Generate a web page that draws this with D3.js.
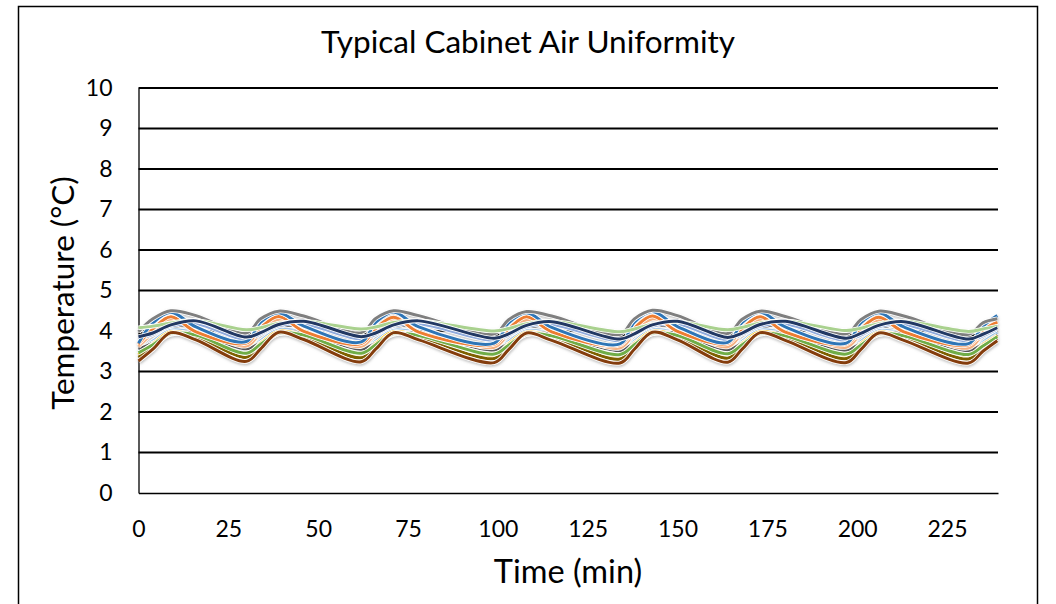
<!DOCTYPE html>
<html>
<head>
<meta charset="utf-8">
<script src="https://cdn.jsdelivr.net/npm/d3@7"></script>
<style>
  body { margin: 0; background: #fff; }
  text { font-family: Lato, "Open Sans", sans-serif; fill: #000; }
</style>
</head>
<body>
<div id="vis"></div>
<script>
var width = 1056;
var height = 604;

// knot times (min): each cycle = trough, +4, +9, +16
const times = [0, 4, 9, 16, 30, 34, 39, 46, 62, 66, 71, 78, 99, 103, 108, 115,
  134, 138, 143, 150, 164, 168, 173, 180, 197, 201, 206, 213, 231, 235, 239];

const xTicks = [0, 25, 50, 75, 100, 125, 150, 175, 200, 225];
const yTicks = [0, 1, 2, 3, 4, 5, 6, 7, 8, 9, 10];

// temperatures (°C) at each knot, one array per sensor
const sBlack = [3.92, 3.98, 4.10, 4.16, 3.90, 3.97, 4.10, 4.15, 3.91, 3.98, 4.10, 4.16, 3.88, 3.96, 4.09, 4.15,
  3.87, 3.96, 4.10, 4.15, 3.89, 3.97, 4.10, 4.15, 3.88, 3.96, 4.09, 4.15, 3.87, 3.94, 4.05];
const sLightBlue = [3.50, 3.75, 4.02, 3.95, 3.50, 3.76, 4.03, 3.96, 3.49, 3.75, 4.02, 3.95, 3.47, 3.74, 4.01, 3.94,
  3.46, 3.75, 4.03, 3.95, 3.48, 3.75, 4.02, 3.94, 3.47, 3.74, 4.01, 3.94, 3.46, 3.72, 3.96];
const sDarkGray = [3.55, 3.70, 3.92, 3.95, 3.56, 3.71, 3.93, 3.96, 3.55, 3.70, 3.92, 3.95, 3.53, 3.69, 3.91, 3.94,
  3.52, 3.70, 3.93, 3.95, 3.54, 3.70, 3.92, 3.94, 3.53, 3.69, 3.91, 3.94, 3.52, 3.68, 3.90];
const sGold = [3.42, 3.68, 3.98, 3.88, 3.43, 3.70, 3.99, 3.89, 3.42, 3.69, 3.98, 3.88, 3.40, 3.68, 3.97, 3.87,
  3.39, 3.69, 3.99, 3.88, 3.41, 3.69, 3.98, 3.87, 3.40, 3.68, 3.97, 3.87, 3.39, 3.66, 3.88];
const sOlive = [3.35, 3.60, 3.93, 3.85, 3.35, 3.62, 3.94, 3.86, 3.34, 3.61, 3.93, 3.85, 3.32, 3.60, 3.92, 3.84,
  3.31, 3.61, 3.94, 3.85, 3.33, 3.61, 3.93, 3.84, 3.32, 3.60, 3.92, 3.84, 3.31, 3.58, 3.82];
const sGreen = [3.46, 3.66, 3.94, 3.90, 3.45, 3.67, 3.95, 3.90, 3.45, 3.66, 3.94, 3.89, 3.43, 3.65, 3.93, 3.88,
  3.42, 3.66, 3.95, 3.89, 3.44, 3.66, 3.94, 3.88, 3.43, 3.65, 3.93, 3.88, 3.42, 3.63, 3.86];
const sBrown = [3.26, 3.55, 3.96, 3.78, 3.25, 3.56, 3.97, 3.79, 3.24, 3.55, 3.96, 3.78, 3.22, 3.54, 3.95, 3.77,
  3.21, 3.55, 3.97, 3.78, 3.23, 3.55, 3.96, 3.77, 3.22, 3.54, 3.95, 3.77, 3.21, 3.50, 3.76];
const sPeach = [3.62, 3.95, 4.28, 4.10, 3.63, 3.96, 4.29, 4.11, 3.62, 3.95, 4.28, 4.10, 3.60, 3.94, 4.27, 4.09,
  3.58, 3.95, 4.30, 4.10, 3.61, 3.95, 4.28, 4.09, 3.60, 3.94, 4.27, 4.09, 3.58, 3.92, 4.22];
const sPeriwinkle = [3.80, 3.92, 4.12, 4.18, 3.79, 3.93, 4.13, 4.17, 3.80, 3.92, 4.12, 4.18, 3.77, 3.90, 4.11, 4.16,
  3.76, 3.91, 4.12, 4.17, 3.78, 3.92, 4.12, 4.17, 3.77, 3.90, 4.11, 4.16, 3.75, 3.88, 4.05];
const sOrange = [3.68, 4.05, 4.35, 3.98, 3.70, 4.08, 4.36, 3.99, 3.69, 4.06, 4.34, 3.97, 3.67, 4.05, 4.35, 3.98,
  3.66, 4.07, 4.37, 3.99, 3.69, 4.06, 4.35, 3.97, 3.68, 4.05, 4.34, 3.98, 3.66, 4.02, 4.22];
const sBlue = [3.70, 4.20, 4.46, 4.10, 3.74, 4.22, 4.45, 4.12, 3.73, 4.21, 4.47, 4.10, 3.70, 4.20, 4.45, 4.09,
  3.68, 4.22, 4.48, 4.11, 3.72, 4.21, 4.46, 4.10, 3.70, 4.20, 4.45, 4.10, 3.69, 4.12, 4.38];
const sGray = [3.98, 4.30, 4.50, 4.38, 3.95, 4.30, 4.49, 4.37, 3.96, 4.31, 4.50, 4.38, 3.93, 4.28, 4.48, 4.37,
  3.92, 4.30, 4.51, 4.38, 3.94, 4.29, 4.49, 4.36, 3.93, 4.28, 4.49, 4.37, 3.92, 4.20, 4.30];
const sLightGreen = [4.08, 4.12, 4.20, 4.26, 4.03, 4.08, 4.19, 4.24, 4.05, 4.10, 4.21, 4.25, 4.00, 4.06, 4.18, 4.24,
  3.98, 4.05, 4.17, 4.23, 4.03, 4.09, 4.20, 4.25, 4.01, 4.07, 4.18, 4.24, 3.99, 4.05, 4.12];
const sNavy = [3.86, 3.95, 4.15, 4.25, 3.85, 3.96, 4.16, 4.24, 3.86, 3.95, 4.15, 4.25, 3.82, 3.93, 4.14, 4.23,
  3.80, 3.93, 4.15, 4.24, 3.84, 3.95, 4.16, 4.24, 3.82, 3.94, 4.14, 4.23, 3.80, 3.92, 4.08];

// draw order = bottom to top
const series = [
  { values: sBlack, color: "#000000" },
  { values: sLightBlue, color: "#9DC3E6" },
  { values: sDarkGray, color: "#595959" },
  { values: sGold, color: "#FFC000" },
  { values: sOlive, color: "#7F6000" },
  { values: sGreen, color: "#70AD47" },
  { values: sBrown, color: "#843C0C" },
  { values: sPeach, color: "#F4B183" },
  { values: sPeriwinkle, color: "#8FAADC" },
  { values: sOrange, color: "#ED7D31" },
  { values: sBlue, color: "#2E75B6" },
  { values: sGray, color: "#7F7F7F" },
  { values: sLightGreen, color: "#A9D18E" },
  { values: sNavy, color: "#203864" }
];

function init() {
  var svg = d3.select("#vis").append("svg")
    .attr("width", width)
    .attr("height", height);

  svg.append("rect")
    .attr("x", 18.5).attr("y", 6.5)
    .attr("width", 1019).attr("height", 620)
    .attr("fill", "#fff")
    .attr("stroke", "#000")
    .attr("stroke-width", 1.5);

  var x = d3.scaleLinear().domain([0, 239.2]).range([138.5, 998]);
  var y = d3.scaleLinear().domain([0, 10]).range([493, 88]);

  // gridlines
  svg.append("g").selectAll("line")
    .data(yTicks.filter(function (d) { return d > 0; }))
    .enter().append("line")
    .attr("x1", x.range()[0]).attr("x2", x.range()[1])
    .attr("y1", function (d) { return y(d); })
    .attr("y2", function (d) { return y(d); })
    .attr("stroke", "#000")
    .attr("stroke-width", 2);

  // axes (no tick marks, Excel style)
  var xAxis = svg.append("g")
    .attr("transform", "translate(0," + y(0) + ")")
    .call(d3.axisBottom(x).tickValues(xTicks).tickSize(0).tickPadding(28));
  xAxis.select(".domain").attr("stroke", "#000").attr("stroke-width", 1.3);
  xAxis.selectAll("text").style("font-size", "23px").attr("dy", "0.71em");

  var yAxis = svg.append("g")
    .attr("transform", "translate(" + x.range()[0] + ",0)")
    .call(d3.axisLeft(y).tickValues(yTicks).tickSize(0).tickPadding(26));
  yAxis.select(".domain").attr("stroke", "#000").attr("stroke-width", 1.3);
  yAxis.selectAll("text").style("font-size", "23px");

  // lines
  var defs = svg.append("defs");
  var f = defs.append("filter").attr("id", "shadow")
    .attr("x", "-5%").attr("y", "-50%").attr("width", "110%").attr("height", "200%");
  f.append("feDropShadow")
    .attr("dx", 0.5).attr("dy", 1.5).attr("stdDeviation", 1.2)
    .attr("flood-color", "#808080").attr("flood-opacity", 0.5);

  var line = d3.line()
    .x(function (d, i) { return x(times[i]); })
    .y(function (d) { return y(d); })
    .curve(d3.curveCatmullRom.alpha(0.5));

  var lines = svg.append("g").attr("filter", "url(#shadow)");
  series.forEach(function (s) {
    lines.append("path")
      .attr("d", line(s.values))
      .attr("fill", "none")
      .attr("stroke", "#fff")
      .attr("stroke-width", 4.6)
      .attr("stroke-linejoin", "round");
    lines.append("path")
      .attr("d", line(s.values))
      .attr("fill", "none")
      .attr("stroke", s.color)
      .attr("stroke-width", 3)
      .attr("stroke-linejoin", "round");
  });

  // titles
  svg.append("text")
    .attr("x", 528).attr("y", 53)
    .attr("text-anchor", "middle")
    .style("font-size", "31.5px")
    .text("Typical Cabinet Air Uniformity");

  svg.append("text")
    .attr("x", 568).attr("y", 583)
    .attr("text-anchor", "middle")
    .style("font-size", "32.5px")
    .text("Time (min)");

  svg.append("text")
    .attr("transform", "translate(74,293) rotate(-90)")
    .attr("text-anchor", "middle")
    .style("font-size", "31.5px")
    .text("Temperature (°C)");
}

init();
</script>
</body>
</html>
